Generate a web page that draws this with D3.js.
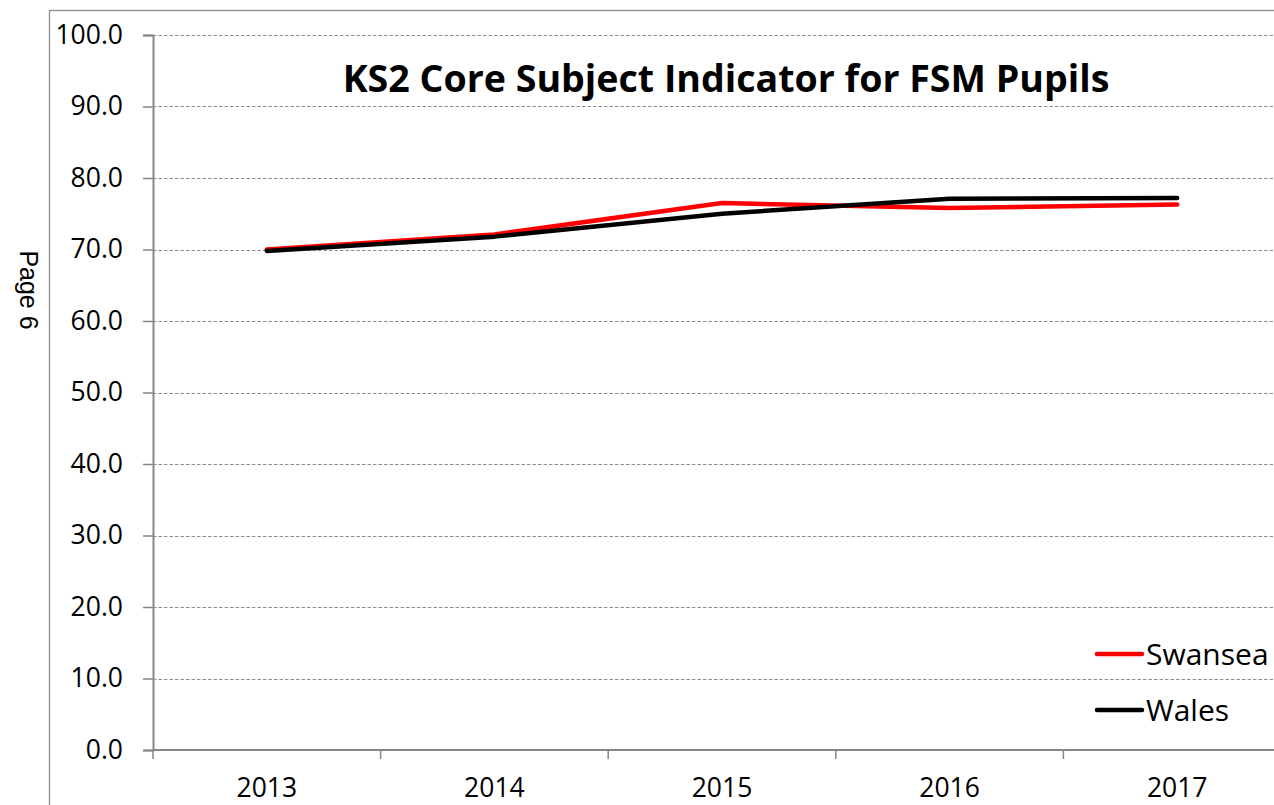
<!DOCTYPE html>
<html>
<head>
<meta charset="utf-8">
<script src="https://cdn.jsdelivr.net/npm/d3@7"></script>
<style>
  html, body { margin: 0; padding: 0; background: #fff; }
  svg { display: block; font-family: "Open Sans", sans-serif; }
</style>
</head>
<body>
<div id="chartDiv"></div>
<script>
let w = 1274
let h = 805

// data
let YEARS = ["2013", "2014", "2015", "2016", "2017"]
let SWANSEA = [70.0, 72.1, 76.5, 75.8, 76.3]
let WALES = [69.8, 71.8, 75.0, 77.1, 77.2]
let Y_TICKS = [0, 10, 20, 30, 40, 50, 60, 70, 80, 90, 100]
let SERIES = [
  { name: "Swansea", values: SWANSEA, color: "#ff0000" },
  { name: "Wales", values: WALES, color: "#000000" }
]

let plotLeft = 153
let plotRight = 1291   // plot area runs past the right edge
let plotTop = 35
let plotBottom = 750
let gridColor = "#8e8e8e"

let svg = d3.select("#chartDiv")
  .append("svg")
  .attr("width", w)
  .attr("height", h)

// chart border (only left and top visible)
svg.append("rect")
  .attr("x", 49.5)
  .attr("y", 10.5)
  .attr("width", 1400)
  .attr("height", 1000)
  .attr("fill", "none")
  .attr("stroke", "#8c8c8c")
  .attr("stroke-width", 1.3)

// page note at the left
svg.append("text")
  .attr("transform", "translate(20, 290) rotate(90)")
  .attr("text-anchor", "middle")
  .attr("font-family", "Liberation Sans, Arial, sans-serif")
  .attr("font-size", 25)
  .attr("fill", "#000")
  .text("Page 6")

let x = d3.scaleBand()
  .domain(YEARS)
  .range([plotLeft, plotRight])

let y = d3.scaleLinear()
  .domain([0, 100])
  .range([plotBottom, plotTop])

// horizontal grid lines
svg.append("g")
  .selectAll("line")
  .data(Y_TICKS.filter(d => d > 0))
  .enter()
  .append("line")
  .attr("x1", plotLeft)
  .attr("x2", w)
  .attr("y1", d => Math.round(y(d)) + 0.5)
  .attr("y2", d => Math.round(y(d)) + 0.5)
  .attr("stroke", gridColor)
  .attr("stroke-width", 1.2)
  .attr("stroke-dasharray", "3.5,2")

// y axis
let yAxis = d3.axisLeft(y)
  .tickValues(Y_TICKS)
  .tickSize(10)
  .tickPadding(20)
  .tickFormat(d3.format(".1f"))

svg.append("g")
  .attr("transform", "translate(" + plotLeft + ",0)")
  .call(yAxis)
  .call(g => g.select(".domain").attr("stroke", "#868686").attr("stroke-width", 2))
  .call(g => g.selectAll(".tick line").attr("stroke", "#868686").attr("stroke-width", 1.5))
  .call(g => g.selectAll(".tick text")
    .attr("font-family", "Open Sans, sans-serif")
    .attr("font-size", 26.5)
    .attr("fill", "#000"))

// x axis: labels centred in each category, tick marks between categories
let xAxis = d3.axisBottom(x)
  .tickSize(0)
  .tickPadding(28)

let xg = svg.append("g")
  .attr("transform", "translate(0," + plotBottom + ")")
  .call(xAxis)

xg.select(".domain").remove()
xg.append("line")
  .attr("x1", plotLeft)
  .attr("x2", w)
  .attr("stroke", "#868686")
  .attr("stroke-width", 2)
xg.selectAll(".tick text")
  .attr("font-family", "Open Sans, sans-serif")
  .attr("font-size", 26.5)
  .attr("fill", "#000")
xg.selectAll(".boundary")
  .data(YEARS.concat(["end"]))
  .enter()
  .append("line")
  .attr("class", "boundary")
  .attr("x1", d => d === "end" ? plotRight : x(d))
  .attr("x2", d => d === "end" ? plotRight : x(d))
  .attr("y1", 0)
  .attr("y2", 9)
  .attr("stroke", "#868686")
  .attr("stroke-width", 1.5)

// series lines
let line = d3.line()
  .x((d, i) => x(YEARS[i]) + x.bandwidth() / 2)
  .y(d => y(d))

svg.append("g")
  .selectAll("path")
  .data(SERIES)
  .enter()
  .append("path")
  .attr("d", d => line(d.values))
  .attr("fill", "none")
  .attr("stroke", d => d.color)
  .attr("stroke-width", 4.5)
  .attr("stroke-linecap", "round")
  .attr("stroke-linejoin", "round")

// title
let title = svg.append("text")
  .attr("x", 726)
  .attr("y", 92)
  .attr("text-anchor", "middle")
  .attr("font-family", "Open Sans, sans-serif")
  .attr("font-weight", "bold")
  .attr("font-size", 32)
  .attr("fill", "#000")
  .text("KS2 Core Subject Indicator for FSM Pupils")
let tw = title.node().getComputedTextLength()
title.attr("font-size", 32 * 767 / tw)

// legend
let legend = svg.append("g")
  .selectAll("g")
  .data(SERIES)
  .enter()
  .append("g")
  .attr("transform", (d, i) => "translate(1097," + (654 + i * 56) + ")")

legend.append("line")
  .attr("x1", 0)
  .attr("x2", 45)
  .attr("stroke", d => d.color)
  .attr("stroke-width", 4.5)
  .attr("stroke-linecap", "round")

legend.append("text")
  .attr("x", 49)
  .attr("y", 11)
  .attr("font-family", "Open Sans, sans-serif")
  .attr("font-size", 30)
  .attr("fill", "#000")
  .text(d => d.name)
</script>
</body>
</html>
